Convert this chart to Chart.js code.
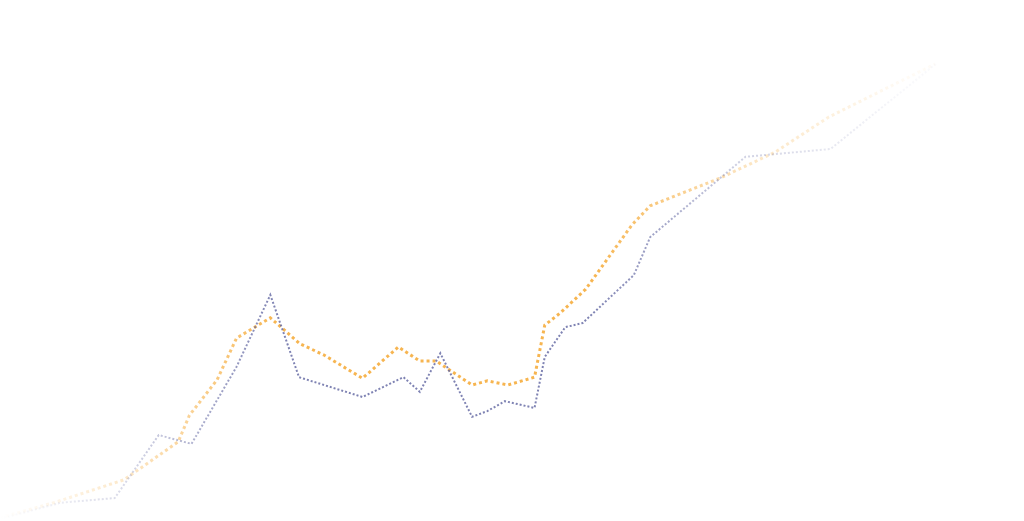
<!DOCTYPE html>
<html>
<head>
<meta charset="utf-8">
<script src="https://cdn.jsdelivr.net/npm/chart.js@4"></script>
<style>
  html, body { margin: 0; padding: 0; background: #fff; }
  #wrap { width: 1024px; height: 521px; position: relative; }
</style>
</head>
<body>
<div id="wrap"><canvas id="myChart"></canvas></div>
<script>
// series one (slate / purple)
var purpleX = [0, 5.9, 11.2, 15.5, 18.7, 23.1, 26.4, 29.2, 35.4, 39.4, 41.0, 43.0, 46.1, 47.6, 49.3, 52.2, 53.2, 55.2, 56.9, 61.9, 63.5, 72.8, 81.1, 91.5];
var purpleY = [0.4, 3.5, 4.4, 16.5, 14.8, 29.6, 43.4, 27.6, 23.8, 27.6, 24.8, 32.2, 20.0, 21.1, 23.0, 21.7, 31.5, 37.2, 38.0, 47.2, 54.5, 69.9, 71.4, 87.9];
// series two (orange)
var orangeX = [0, 5.4, 12.1, 17.4, 18.5, 21.2, 23.1, 26.4, 29.3, 31.6, 35.4, 38.9, 41.0, 42.6, 46.1, 47.6, 49.6, 52.2, 53.2, 54.7, 57.2, 61.7, 63.5, 70.3, 75.7, 80.9, 91.3];
var orangeY = [0.6, 3.6, 7.9, 15.2, 20.3, 27.1, 35.1, 39.0, 34.0, 31.9, 27.4, 33.4, 30.7, 30.7, 26.1, 26.9, 26.1, 27.6, 37.6, 39.9, 44.5, 56.8, 60.5, 65.8, 70.8, 77.5, 87.7];

function toPoints(xs, ys) {
    var pts = [];
    for (var i = 0; i < xs.length; i++) {
        pts.push({ x: xs[i], y: ys[i] });
    }
    return pts;
}

// fade the stroke in on the left and out on the right
function fadeStroke(rgb, top) {
    return function(context) {
        var chart = context.chart;
        var area = chart.chartArea;
        if (!area) return 'rgba(' + rgb + ',' + top + ')';
        var g = chart.ctx.createLinearGradient(area.left, 0, area.right, 0);
        g.addColorStop(0, 'rgba(' + rgb + ',0)');
        g.addColorStop(0.12, 'rgba(' + rgb + ',' + (top * 0.3) + ')');
        g.addColorStop(0.27, 'rgba(' + rgb + ',' + top + ')');
        g.addColorStop(0.58, 'rgba(' + rgb + ',' + top + ')');
        g.addColorStop(0.73, 'rgba(' + rgb + ',' + (top * 0.35) + ')');
        g.addColorStop(0.88, 'rgba(' + rgb + ',' + (top * 0.06) + ')');
        g.addColorStop(1, 'rgba(' + rgb + ',0)');
        return g;
    };
}

var ctx = document.getElementById('myChart').getContext('2d');
var myLineChart = new Chart(ctx, {
    type: 'line',
    data: {
        datasets: [{
            label: 'purple',
            data: toPoints(purpleX, purpleY),
            borderColor: fadeStroke('95,100,160', 0.8),
            borderWidth: 2,
            borderDash: [2, 2],
            pointRadius: 0,
            tension: 0,
            fill: false
        }, {
            label: 'orange',
            data: toPoints(orangeX, orangeY),
            borderColor: fadeStroke('245,168,50', 0.85),
            borderWidth: 3,
            borderDash: [3, 3],
            pointRadius: 0,
            tension: 0,
            fill: false
        }]
    },
    options: {
        responsive: true,
        maintainAspectRatio: false,
        animation: false,
        layout: { padding: 0 },
        plugins: { legend: { display: false }, tooltip: { enabled: false } },
        scales: {
            x: { type: 'linear', min: 0, max: 100, display: false },
            y: { min: 0, max: 100, display: false }
        }
    }
});
</script>
</body>
</html>
